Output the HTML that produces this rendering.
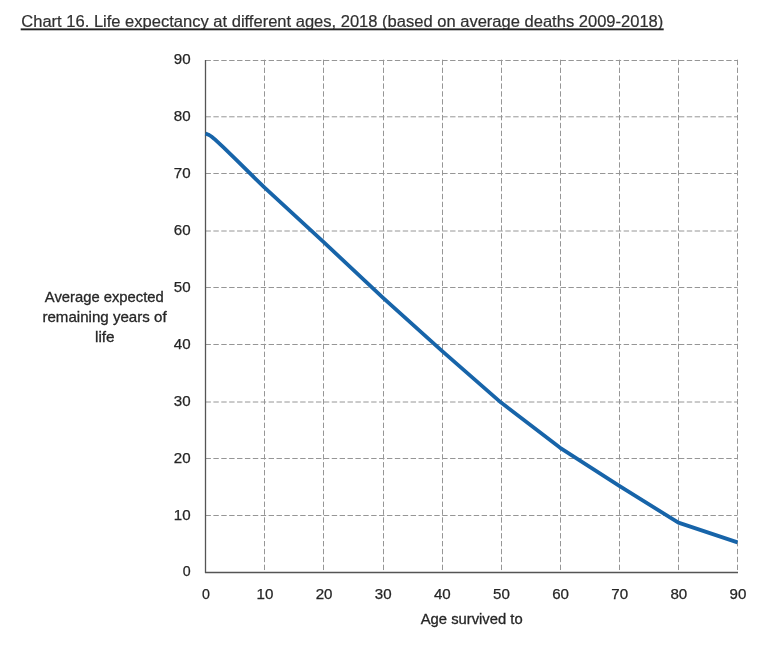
<!DOCTYPE html>
<html><head><meta charset="utf-8"><style>
html,body{margin:0;padding:0;background:#fff;width:768px;height:648px;overflow:hidden;font-family:"Liberation Sans",sans-serif;}
svg{display:block;position:absolute;left:0;top:0;will-change:transform;}
</style></head><body>
<svg width="768" height="648" viewBox="0 0 768 648">
<g stroke="#969696" stroke-width="1" stroke-dasharray="5.4 2.49" fill="none"><line x1="205.5" y1="60.5" x2="737.5" y2="60.5"/><line x1="205.5" y1="116.8" x2="737.5" y2="116.8"/><line x1="205.5" y1="173.5" x2="737.5" y2="173.5"/><line x1="205.5" y1="231.0" x2="737.5" y2="231.0"/><line x1="205.5" y1="287.5" x2="737.5" y2="287.5"/><line x1="205.5" y1="344.5" x2="737.5" y2="344.5"/><line x1="205.5" y1="402.0" x2="737.5" y2="402.0"/><line x1="205.5" y1="458.5" x2="737.5" y2="458.5"/><line x1="205.5" y1="515.5" x2="737.5" y2="515.5"/><line x1="264.5" y1="59.7" x2="264.5" y2="572"/><line x1="323.5" y1="59.7" x2="323.5" y2="572"/><line x1="383.5" y1="59.7" x2="383.5" y2="572"/><line x1="442.5" y1="59.7" x2="442.5" y2="572"/><line x1="501.5" y1="59.7" x2="501.5" y2="572"/><line x1="560.5" y1="59.7" x2="560.5" y2="572"/><line x1="619.5" y1="59.7" x2="619.5" y2="572"/><line x1="678.5" y1="59.7" x2="678.5" y2="572"/><line x1="737.5" y1="59.7" x2="737.5" y2="572"/></g><g stroke="#555555" stroke-width="1.3" fill="none"><line x1="205.5" y1="60" x2="205.5" y2="573"/><line x1="205" y1="572.5" x2="738" y2="572.5"/></g><polyline points="205.50,133.39 208.46,134.64 211.41,136.52 214.37,138.91 217.32,141.64 223.23,147.21 235.06,158.70 264.61,187.72 323.72,242.16 382.83,297.63 441.94,350.82 501.06,402.59 560.17,447.81 619.28,485.93 678.39,522.62 737.50,542.42" fill="none" stroke="#1764a9" stroke-width="3.8" stroke-linejoin="round" stroke-linecap="butt"/>
<g font-family="Liberation Sans, sans-serif" font-size="14.2" fill="#262626" stroke="#262626" stroke-width="0.25">
<text x="190.6" y="576.4" text-anchor="end">0</text><text x="190.6" y="519.5" text-anchor="end" textLength="16.8" lengthAdjust="spacingAndGlyphs">10</text><text x="190.6" y="462.6" text-anchor="end" textLength="16.8" lengthAdjust="spacingAndGlyphs">20</text><text x="190.6" y="405.7" text-anchor="end" textLength="16.8" lengthAdjust="spacingAndGlyphs">30</text><text x="190.6" y="348.8" text-anchor="end" textLength="16.8" lengthAdjust="spacingAndGlyphs">40</text><text x="190.6" y="292.0" text-anchor="end" textLength="16.8" lengthAdjust="spacingAndGlyphs">50</text><text x="190.6" y="235.1" text-anchor="end" textLength="16.8" lengthAdjust="spacingAndGlyphs">60</text><text x="190.6" y="178.2" text-anchor="end" textLength="16.8" lengthAdjust="spacingAndGlyphs">70</text><text x="190.6" y="121.3" text-anchor="end" textLength="16.8" lengthAdjust="spacingAndGlyphs">80</text><text x="190.6" y="64.4" text-anchor="end" textLength="16.8" lengthAdjust="spacingAndGlyphs">90</text>
<text x="205.9" y="599" text-anchor="middle">0</text><text x="265.0" y="599" text-anchor="middle" textLength="16.8" lengthAdjust="spacingAndGlyphs">10</text><text x="324.1" y="599" text-anchor="middle" textLength="16.8" lengthAdjust="spacingAndGlyphs">20</text><text x="383.2" y="599" text-anchor="middle" textLength="16.8" lengthAdjust="spacingAndGlyphs">30</text><text x="442.3" y="599" text-anchor="middle" textLength="16.8" lengthAdjust="spacingAndGlyphs">40</text><text x="501.5" y="599" text-anchor="middle" textLength="16.8" lengthAdjust="spacingAndGlyphs">50</text><text x="560.6" y="599" text-anchor="middle" textLength="16.8" lengthAdjust="spacingAndGlyphs">60</text><text x="619.7" y="599" text-anchor="middle" textLength="16.8" lengthAdjust="spacingAndGlyphs">70</text><text x="678.8" y="599" text-anchor="middle" textLength="16.8" lengthAdjust="spacingAndGlyphs">80</text><text x="737.9" y="599" text-anchor="middle" textLength="16.8" lengthAdjust="spacingAndGlyphs">90</text>
</g>
<g font-family="Liberation Sans, sans-serif" font-size="14.6" fill="#262626" stroke="#262626" stroke-width="0.3" text-anchor="middle">
<text x="104.3" y="301.6" textLength="119" lengthAdjust="spacingAndGlyphs">Average expected</text>
<text x="104.5" y="321.6" textLength="124.2" lengthAdjust="spacingAndGlyphs">remaining years of</text>
<text x="104.8" y="342.4" textLength="19.6" lengthAdjust="spacingAndGlyphs">life</text>
<text x="471.7" y="623.5" textLength="102" lengthAdjust="spacingAndGlyphs">Age survived to</text>
</g>
<text x="21.3" y="26.5" font-family="Liberation Sans, sans-serif" font-size="16" fill="#303030" stroke="#303030" stroke-width="0.2" textLength="642" lengthAdjust="spacingAndGlyphs">Chart 16. Life expectancy at different ages, 2018 (based on average deaths 2009-2018)</text>
<rect x="20.7" y="28.4" width="643" height="1.9" fill="#222"/>
</svg>
</body></html>
